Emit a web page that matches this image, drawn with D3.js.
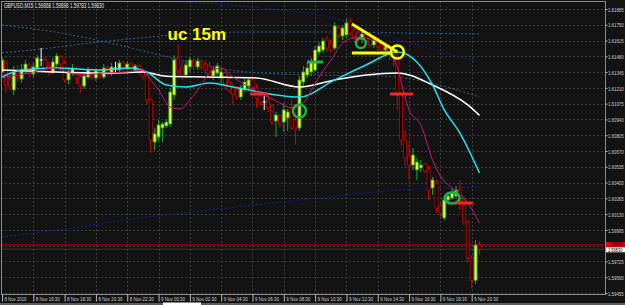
<!DOCTYPE html>
<html>
<head>
<meta charset="utf-8">
<title>GBPUSD,M15</title>
<style>
    body { margin: 0; background: #131313; }
    svg { display: block; }
</style>
<script src="https://d3js.org/d3.v7.min.js"></script>
</head>
<body>
<div id="chart"></div>
<script>
const width = 625, height = 305;
const plot = {left: 1, right: 605, top: 1, bottom: 294};
const font = "'Liberation Sans', Arial, sans-serif";

// 15 minute bars, first bar 8 Nov 2010 14:30
const barOpen = [1.61346,1.61432,1.61295,1.61192,1.61346,1.61286,1.61355,1.61406,1.61329,1.61380,
    1.61449,1.61449,1.61397,1.61346,1.61414,1.61474,1.61423,1.61278,1.61337,1.61372,
    1.61303,1.61226,1.61303,1.61363,1.61295,1.61346,1.61303,1.61380,1.61337,1.61380,
    1.61363,1.61423,1.61380,1.61414,1.61363,1.61397,1.61355,1.61312,1.61107,1.60747,
    1.60790,1.60867,1.60884,1.60901,1.61149,1.61466,1.61380,1.61320,1.61389,1.61440,
    1.61389,1.61432,1.61414,1.61397,1.61312,1.61337,1.61295,1.61337,1.61260,1.61209,
    1.61192,1.61132,1.61192,1.61226,1.61278,1.61209,1.61141,1.61089,1.61107,1.61055,
    1.60927,1.60970,1.60918,1.60953,1.61038,1.60935,1.60867,1.61260,1.61320,1.61346,
    1.61363,1.61517,1.61534,1.61620,1.61586,1.61551,1.61722,1.61654,1.61663,1.61774,
    1.61705,1.61680,1.61628,1.61663,1.61637,1.61577,1.61620,1.61586,1.61534,1.61560,
    1.61517,1.61466,1.61149,1.60764,1.60627,1.60550,1.60508,1.60525,1.60559,1.60508,
    1.60354,1.60396,1.60200,1.60097,1.60251,1.60268,1.60285,1.60336,1.60251,1.60063,
    1.59755,1.59562,1.59868];
const barHigh = [1.61474,1.61449,1.61363,1.61397,1.61406,1.61414,1.61449,1.61432,1.61423,1.61491,
    1.61551,1.61474,1.61432,1.61466,1.61509,1.61491,1.61449,1.61380,1.61414,1.61397,
    1.61329,1.61337,1.61389,1.61380,1.61380,1.61372,1.61414,1.61406,1.61423,1.61432,
    1.61449,1.61440,1.61440,1.61432,1.61414,1.61414,1.61380,1.61346,1.61124,1.60867,
    1.60935,1.60918,1.60944,1.61209,1.61491,1.61586,1.61432,1.61449,1.61474,1.61466,
    1.61466,1.61457,1.61449,1.61432,1.61397,1.61423,1.61372,1.61355,1.61295,1.61243,
    1.61226,1.61235,1.61295,1.61303,1.61312,1.61243,1.61175,1.61141,1.61141,1.61072,
    1.61004,1.60987,1.61081,1.61030,1.61107,1.60970,1.61312,1.61397,1.61423,1.61466,
    1.61568,1.61603,1.61637,1.61654,1.61620,1.61774,1.61748,1.61740,1.61799,1.61808,
    1.61731,1.61722,1.61697,1.61688,1.61663,1.61645,1.61645,1.61611,1.61594,1.61586,
    1.61551,1.61534,1.61175,1.60850,1.60739,1.60696,1.60610,1.60593,1.60567,1.60542,
    1.60448,1.60422,1.60225,1.60285,1.60319,1.60354,1.60371,1.60422,1.60285,1.60080,
    1.59780,1.59909,1.59898];
const barLow = [1.61320,1.61166,1.61192,1.61149,1.61260,1.61252,1.61329,1.61295,1.61303,1.61363,
    1.61397,1.61346,1.61312,1.61329,1.61380,1.61363,1.61260,1.61243,1.61312,1.61243,
    1.61166,1.61201,1.61286,1.61278,1.61269,1.61286,1.61286,1.61312,1.61312,1.61346,
    1.61346,1.61355,1.61363,1.61346,1.61346,1.61320,1.61278,1.61072,1.60653,1.60679,
    1.60756,1.60747,1.60867,1.60876,1.61107,1.61320,1.61278,1.61295,1.61346,1.61363,
    1.61363,1.61363,1.61329,1.61295,1.61278,1.61312,1.61252,1.61192,1.61166,1.61064,
    1.61107,1.61107,1.61175,1.61192,1.61175,1.61038,1.61055,1.61021,1.61004,1.60893,
    1.60790,1.60867,1.60833,1.60841,1.60850,1.60722,1.60841,1.61209,1.61295,1.61312,
    1.61346,1.61491,1.61509,1.61517,1.61509,1.61534,1.61637,1.61620,1.61637,1.61654,
    1.61620,1.61603,1.61594,1.61577,1.61551,1.61551,1.61534,1.61509,1.61509,1.61449,
    1.61397,1.61021,1.60713,1.60533,1.60422,1.60508,1.60422,1.60491,1.60482,1.60251,
    1.60294,1.60140,1.60106,1.60080,1.60225,1.60251,1.60260,1.60165,1.60037,1.59716,
    1.59497,1.59532,1.59783];
const barClose = [1.61449,1.61235,1.61226,1.61346,1.61295,1.61363,1.61414,1.61329,1.61389,1.61466,
    1.61449,1.61380,1.61346,1.61432,1.61483,1.61414,1.61278,1.61346,1.61380,1.61295,
    1.61226,1.61312,1.61363,1.61303,1.61355,1.61312,1.61380,1.61337,1.61389,1.61380,
    1.61423,1.61380,1.61414,1.61372,1.61397,1.61346,1.61312,1.61107,1.60764,1.60816,
    1.60893,1.60901,1.60918,1.61175,1.61449,1.61363,1.61312,1.61406,1.61449,1.61397,
    1.61440,1.61389,1.61363,1.61312,1.61363,1.61397,1.61346,1.61226,1.61192,1.61158,
    1.61141,1.61209,1.61260,1.61278,1.61218,1.61124,1.61089,1.61089,1.61038,1.60918,
    1.60978,1.60901,1.61021,1.61004,1.60867,1.60850,1.61278,1.61346,1.61380,1.61432,
    1.61534,1.61568,1.61611,1.61551,1.61534,1.61740,1.61663,1.61722,1.61765,1.61680,
    1.61637,1.61637,1.61671,1.61603,1.61577,1.61620,1.61560,1.61534,1.61568,1.61491,
    1.61449,1.61149,1.60764,1.60610,1.60550,1.60636,1.60576,1.60550,1.60499,1.60336,
    1.60422,1.60183,1.60140,1.60251,1.60285,1.60319,1.60336,1.60251,1.60063,1.59755,
    1.59562,1.59865,1.59830];

const timeLabels = ["8 Nov 2010", "8 Nov 16:30", "8 Nov 18:30", "8 Nov 20:30", "8 Nov 22:30",
    "9 Nov 00:30", "9 Nov 02:30", "9 Nov 04:30", "9 Nov 06:30", "9 Nov 08:30", "9 Nov 10:30",
    "9 Nov 12:30", "9 Nov 14:30", "9 Nov 16:30", "9 Nov 18:30", "9 Nov 20:30"];
const barsPerLabel = 8;
const priceTicks = [1.61885, 1.61750, 1.61615, 1.61480, 1.61345, 1.61210, 1.61075, 1.60940, 1.60805,
    1.60670, 1.60535, 1.60400, 1.60265, 1.60130, 1.59995, 1.59860, 1.59725, 1.59590, 1.59455];

// indicator lines, [bar, price]
const slowMA = [[0,1.61363],[10,1.61350],[25,1.61335],[36,1.61345],[42,1.61310],[52,1.61303],[65,1.61295],
    [76,1.61218],[85,1.61278],[93,1.61320],[101,1.61338],[110,1.61235],[119,1.61064],[122,1.60975]];
const midMA = [[0,1.61303],[5,1.61363],[14,1.61380],[25,1.61363],[33,1.61380],[37,1.61346],[42,1.61235],
    [47,1.61218],[53,1.61252],[59,1.61218],[76,1.61132],[85,1.61278],[93,1.61406],[101,1.61517],
    [106,1.61432],[110,1.61235],[113,1.61021],[117,1.60824],[122,1.60482]];
const fastMA = [[0,1.61295],[4,1.61320],[8,1.61346],[13,1.61380],[20,1.61320],[26,1.61337],[32,1.61346],
    [36,1.61363],[38,1.61278],[40,1.61192],[43,1.61047],[45.5,1.61030],[48,1.61107],[50.6,1.61218],
    [53,1.61338],[56,1.61380],[59,1.61303],[63,1.61218],[68,1.61132],[71,1.61081],[74,1.61038],
    [77,1.61081],[79.5,1.61218],[81,1.61303],[84.6,1.61474],[87,1.61594],[90.7,1.61645],[96,1.61603],
    [99,1.61509],[101,1.61389],[102.5,1.61192],[104,1.61021],[107,1.60893],[110,1.60593],
    [112.7,1.60422],[115,1.60354],[119,1.60225],[122,1.60054]];
const bandA = [[0,1.61748],[15,1.61680],[27.6,1.61594],[40.4,1.61491],[53,1.61389],[66,1.61337],
    [81,1.61320],[96.6,1.61312],[106,1.61278],[114.5,1.61209],[122,1.61132]];
const bandB = [[0,1.61509],[12.3,1.61551],[25,1.61603],[37.8,1.61645],[50.6,1.61680],[66,1.61688],
    [84,1.61688],[101.7,1.61680],[122,1.61671]];
const bandC = [[30,1.61962],[37.8,1.61953],[50.6,1.61936],[66,1.61894],[84.6,1.61808],[101.7,1.61620],[122,1.61432]];
const bandD = [[0,1.59934],[17.9,1.60011],[35.3,1.60097],[53.1,1.60165],[76.1,1.60251],[101.7,1.60336],[122,1.60362]];

const markedLevel = 1.59868;

// hand drawn objects, [bar, price]
const greenCircles = [[76, 1.61013, 6.5, 6.5], [91.7, 1.61594, 5, 5], [115, 1.60268, 7.5, 5.5]];
const yellowCircle = [101, 1.61517];
const yellowLines = [[[89.4, 1.61757], [101, 1.61517]], [[89.4, 1.61509], [99.7, 1.61509]]];
const greenMarks = [[77.9, 82, 1.61432]];
const redMarks = [[63.4, 68, 1.61158], [99.1, 105, 1.61158], [115.7, 120.3, 1.60225]];
const noteText = "uc 15m";
const notePos = [42.3, 1.61620];

const x = d3.scaleLinear().domain([0, 122]).range([2, 479.5]);
const y = d3.scaleLinear().domain([1.59455, 1.61885]).range([293, 9]);
const f5 = d3.format(".5f");

const svg = d3.select("#chart").append("svg")
    .attr("width", width)
    .attr("height", height);

svg.append("rect").attr("width", width).attr("height", height).attr("fill", "#131313");

svg.append("clipPath").attr("id", "clip")
    .append("rect")
    .attr("x", plot.left + 0.5).attr("y", plot.top + 0.5)
    .attr("width", plot.right - plot.left - 1).attr("height", plot.bottom - plot.top - 1);

// grid
const grid = svg.append("g").attr("stroke", "#3e3e3e").attr("stroke-dasharray", "2,2");
grid.selectAll(".hgrid").data(priceTicks).enter().append("line")
    .attr("x1", plot.left).attr("x2", plot.right)
    .attr("y1", d => Math.round(y(d)) + 0.5).attr("y2", d => Math.round(y(d)) + 0.5);
grid.selectAll(".vgrid").data(timeLabels.slice(1)).enter().append("line")
    .attr("x1", (d, k) => Math.round(x((k + 1) * barsPerLabel)) + 0.5)
    .attr("x2", (d, k) => Math.round(x((k + 1) * barsPerLabel)) + 0.5)
    .attr("y1", plot.top).attr("y2", plot.bottom);

const chart = svg.append("g").attr("clip-path", "url(#clip)");

// level lines
chart.append("line")
    .attr("x1", plot.left).attr("x2", plot.right)
    .attr("y1", y(barClose[barClose.length - 1])).attr("y2", y(barClose[barClose.length - 1]))
    .attr("stroke", "#3a3a3a");
chart.append("line")
    .attr("x1", plot.left).attr("x2", plot.right)
    .attr("y1", y(markedLevel)).attr("y2", y(markedLevel))
    .attr("stroke", "#b00000");

const curve = d3.line().x(d => x(d[0])).y(d => y(d[1])).curve(d3.curveMonotoneX);

// dotted bands
[[bandA, "#2f6595"], [bandB, "#2f6595"], [bandC, "#1c1ca8"], [bandD, "#1c1ca8"]].forEach(([pts, col]) => {
    chart.append("path").attr("d", curve(pts))
        .attr("fill", "none").attr("stroke", col).attr("stroke-width", 1)
        .attr("stroke-dasharray", "2,2");
});

// candles
const bars = barOpen.map((o, i) => ({i, o, h: barHigh[i], l: barLow[i], c: barClose[i]}));
const kind = d => d.c > d.o ? "up" : (d.c < d.o ? "down" : "doji");
const edge = {up: "#19a23e", down: "#d80000", doji: "#ffffff"};

chart.selectAll(".wick").data(bars).enter().append("line")
    .attr("x1", d => x(d.i)).attr("x2", d => x(d.i))
    .attr("y1", d => y(d.h)).attr("y2", d => y(d.l))
    .attr("stroke", d => edge[kind(d)]).attr("stroke-width", 1);

chart.selectAll(".body").data(bars.filter(d => kind(d) !== "doji")).enter().append("rect")
    .attr("x", d => x(d.i) - 1.5).attr("width", 3)
    .attr("y", d => y(Math.max(d.o, d.c)))
    .attr("height", d => Math.max(1, Math.abs(y(d.o) - y(d.c))))
    .attr("fill", d => kind(d) === "up" ? "#f4f41c" : "#000")
    .attr("stroke", d => edge[kind(d)]).attr("stroke-width", 0.8);

chart.selectAll(".doji").data(bars.filter(d => kind(d) === "doji")).enter().append("line")
    .attr("x1", d => x(d.i) - 1.5).attr("x2", d => x(d.i) + 1.5)
    .attr("y1", d => y(d.o)).attr("y2", d => y(d.o))
    .attr("stroke", "#ffffff");

// moving averages
[[slowMA, "#ffffff", 1.5], [midMA, "#22e2ec", 1.5], [fastMA, "#c8186e", 1]].forEach(([pts, col, w]) => {
    chart.append("path").attr("d", curve(pts))
        .attr("fill", "none").attr("stroke", col).attr("stroke-width", w);
});

// drawn objects
chart.selectAll(".gcirc").data(greenCircles).enter().append("ellipse")
    .attr("cx", d => x(d[0])).attr("cy", d => y(d[1]))
    .attr("rx", d => d[2]).attr("ry", d => d[3])
    .attr("fill", "none").attr("stroke", "#1fb04c").attr("stroke-width", 2.5);
chart.selectAll(".gmark").data(greenMarks).enter().append("line")
    .attr("x1", d => x(d[0])).attr("x2", d => x(d[1]))
    .attr("y1", d => y(d[2])).attr("y2", d => y(d[2]))
    .attr("stroke", "#1fb04c").attr("stroke-width", 3);
chart.selectAll(".rmark").data(redMarks).enter().append("line")
    .attr("x1", d => x(d[0])).attr("x2", d => x(d[1]))
    .attr("y1", d => y(d[2])).attr("y2", d => y(d[2]))
    .attr("stroke", "#ff2222").attr("stroke-width", 3);
chart.selectAll(".yline").data(yellowLines).enter().append("line")
    .attr("x1", d => x(d[0][0])).attr("y1", d => y(d[0][1]))
    .attr("x2", d => x(d[1][0])).attr("y2", d => y(d[1][1]))
    .attr("stroke", "#ffff00").attr("stroke-width", 3);
chart.append("circle")
    .attr("cx", x(yellowCircle[0])).attr("cy", y(yellowCircle[1])).attr("r", 6.5)
    .attr("fill", "none").attr("stroke", "#ffff00").attr("stroke-width", 2.5);

chart.append("text")
    .attr("x", x(notePos[0])).attr("y", y(notePos[1]))
    .attr("font-family", font).attr("font-weight", "bold").attr("font-size", 17)
    .attr("fill", "#ffff00")
    .text(noteText);

// frame
svg.append("rect")
    .attr("x", plot.left + 0.5).attr("y", plot.top + 0.5)
    .attr("width", plot.right - plot.left).attr("height", plot.bottom - plot.top)
    .attr("fill", "none").attr("stroke", "#8a8a8a");

const last = bars[bars.length - 1];

// price axis (the label under the price boxes is hidden, as on the terminal)
const priceAxis = d3.axisRight(y)
    .tickValues(priceTicks.filter(v => Math.abs(v - markedLevel) > 0.0003))
    .tickFormat(f5).tickSize(2);
const pa = svg.append("g").attr("transform", `translate(${plot.right + 0.5},0)`).call(priceAxis);
pa.select(".domain").remove();
pa.selectAll(".tick line").attr("stroke", "#bbbbbb");
pa.selectAll(".tick text")
    .attr("x", 0).attr("dy", "0.35em")
    .attr("transform", "translate(2.5,0) scale(0.72,1)")
    .attr("font-family", font).attr("font-size", 6).attr("fill", "#cfcfcf");

// time axis
const timeAxis = d3.axisBottom(x)
    .tickValues(timeLabels.map((d, k) => k * barsPerLabel))
    .tickFormat((d, k) => timeLabels[k])
    .tickSize(7);
const ta = svg.append("g").attr("transform", `translate(0,${plot.bottom + 0.5})`).call(timeAxis);
ta.select(".domain").remove();
ta.selectAll(".tick line").attr("stroke", "#bbbbbb");
ta.selectAll(".tick text")
    .attr("text-anchor", "start").attr("x", 2).attr("y", 2).attr("dy", "0.75em")
    .attr("font-family", font).attr("font-size", 6).attr("fill", "#cfcfcf")
    .attr("textLength", (d, k) => k === 0 ? 22 : 24).attr("lengthAdjust", "spacingAndGlyphs");

// price boxes on the axis
const boxes = [[markedLevel, "#e00000", "#200000", -0.3], [last.c, "#ffffff", "#000000", 0.6]];
boxes.forEach(([v, bg, fg, off]) => {
    const cy = y(v) + off;
    svg.append("rect").attr("x", plot.right + 1).attr("y", cy - 2.5)
        .attr("width", width - plot.right - 1).attr("height", 5).attr("fill", bg);
    svg.append("text")
        .attr("transform", `translate(${plot.right + 3},${cy + 1.8}) scale(0.8,1)`)
        .attr("font-family", font).attr("font-size", 5).attr("fill", fg)
        .text(f5(v));
});

// symbol line
svg.append("text").attr("x", 4).attr("y", 8)
    .attr("font-family", font).attr("font-size", 6.5).attr("fill", "#e8e8e8")
    .attr("textLength", 100).attr("lengthAdjust", "spacingAndGlyphs")
    .text(`GBPUSD,M15  ${f5(last.o)} ${f5(last.h)} ${f5(last.l)} ${f5(last.c)}`);

// tab strip
svg.append("rect").attr("x", 0).attr("y", 303).attr("width", width).attr("height", 2).attr("fill", "#5c5c5c");
svg.append("rect").attr("x", 163).attr("y", 302.5).attr("width", 38).attr("height", 2.5).attr("fill", "#ffffff");
</script>
</body>
</html>
